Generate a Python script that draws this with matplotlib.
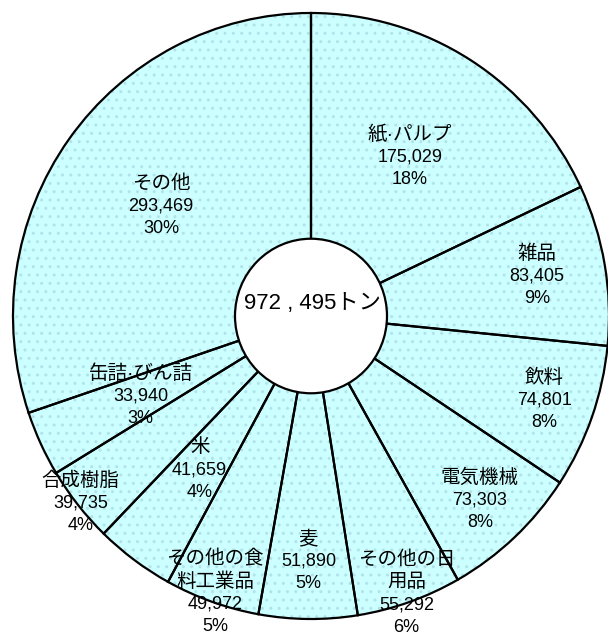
import numpy as np
import matplotlib
matplotlib.use('Agg')
import matplotlib.pyplot as plt
from matplotlib.patches import Ellipse

# ---- data ----
categories = ['紙·パルプ', '雑品', '飲料', '電気機械', 'その他の日用品', '麦',
              'その他の食料工業品', '米', '合成樹脂', '缶詰·びん詰', 'その他']
values = [175029, 83405, 74801, 73303, 55292, 51890, 49972, 41659, 39735, 33940, 293469]
label_lines = [['紙·パルプ'], ['雑品'], ['飲料'], ['電気機械'], ['その他の日', '用品'], ['麦'],
               ['その他の食', '料工業品'], ['米'], ['合成樹脂'], ['缶詰·びん詰'], ['その他']]
total_label = '972 , 495トン'

# ---- layout / style ----
label_radius = [0.62, 0.77, 0.83, 0.83, 0.97, 0.81, 0.97, 0.63, 0.99, 0.63, 0.62]
W, H = 608, 641
cx, cy = 311, 316      # pie centre in pixels (from top-left)
rx, ry = 298, 303      # pie radii in pixels
FAM = ['Liberation Sans', 'Noto Sans CJK JP']

plt.rcParams['hatch.linewidth'] = 1.0
fig = plt.figure(figsize=(W / 100, H / 100), dpi=100)
ax = fig.add_axes([0, 0, 1, 1])

# fill with dotted pattern
ax.pie(values, startangle=90, counterclock=False, colors=['#ccffff'],
       wedgeprops=dict(edgecolor='#b2e2ea', linewidth=0, hatch='..'))
# black outlines
wedges, _ = ax.pie(values, startangle=90, counterclock=False, colors=['none'],
                   wedgeprops=dict(edgecolor='black', linewidth=1.6))

ax.set_aspect('auto')
ax.set_xlim(-cx / rx, (W - cx) / rx)
ax.set_ylim(-(H - cy) / ry, cy / ry)
ax.axis('off')

# centre hole
hole_r = 76 / rx
ax.add_patch(Ellipse((0, 0), 2 * hole_r, 2 * hole_r, facecolor='white',
                     edgecolor='black', linewidth=1.6, zorder=5))
ax.text(1 / rx, (cy - 303) / ry, total_label, family=FAM, fontsize=16,
        ha='center', va='center', zorder=6)

total = sum(values)
pitch = 22.5 / ry
for w, v, lines, r in zip(wedges, values, label_lines, label_radius):
    th = np.deg2rad((w.theta1 + w.theta2) / 2)
    x, y = r * np.cos(th), r * np.sin(th)
    pct = f'{round(v / total * 100):.0f}%'
    all_lines = [(s, 14) for s in lines] + [(f'{v:,}', 13), (pct, 13)]
    n = len(all_lines)
    for i, (s, fs) in enumerate(all_lines):
        yy = y + (n - 1) / 2 * pitch - i * pitch
        ax.text(x, yy, s, family=FAM, fontsize=fs, ha='center', va='center', zorder=6)

fig.savefig('out.png', dpi=100)
